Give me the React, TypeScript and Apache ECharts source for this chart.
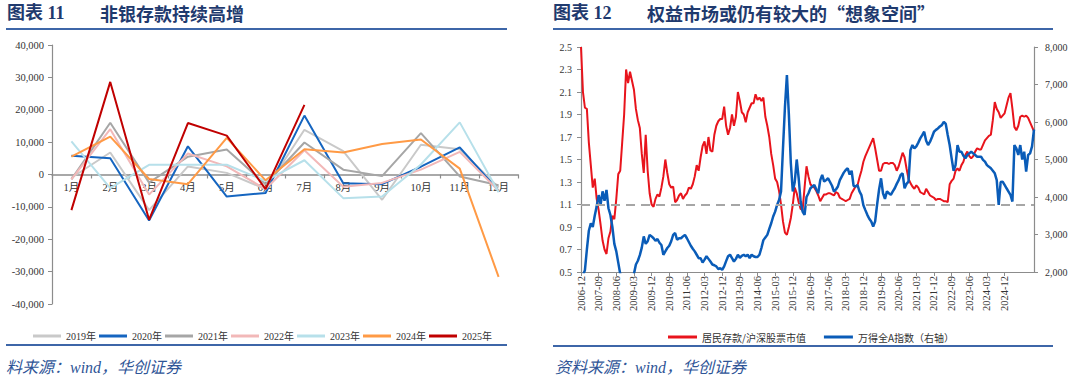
import React, { useEffect, useRef } from 'react';
import * as echarts from 'echarts';

// ---------- Left chart data (非银存款 monthly change, 亿元) ----------
const months = ['1月', '2月', '3月', '4月', '5月', '6月', '7月', '8月', '9月', '10月', '11月', '12月'];
const yearNames = ['2019年', '2020年', '2021年', '2022年', '2023年', '2024年', '2025年'];
const y2019 = [-1000, 6800, -11000, 2500, 500, -4500, 13800, 7200, -7800, 9200, 7800, -4000];
const y2020 = [5800, 5000, -14200, 8700, -6800, -5700, 18200, -2700, -3000, 2400, 8400, -5000];
const y2021 = [-1500, 16000, -2500, 5500, 7700, -3000, 9900, 1500, -500, 12800, -600, -3300];
const y2022 = [-1500, 14000, -6200, 6500, 2500, -4500, 7500, -3800, -2600, 1500, 7000, -5000];
const y2023 = [10200, -4200, 3000, 3000, 3000, -2000, 4400, -7300, -6800, 3100, 16100, -5500];
const y2024 = [5500, 11700, -1400, -3000, 11300, -1800, 7800, 6800, 9400, 10800, 1800, -31600];
const y2025 = [-11000, 28600, -14000, 15900, 12000, -4500, 21500];
const yearColors = ['#c9c9c9', '#1565c0', '#a6a6a6', '#f2b8b8', '#b7e0ea', '#ff9a45', '#c00000'];

// ---------- Right chart data ----------
const startYear = 2006;
const startMonth = 12;
const monthCount = 232;
const dateLabels = Array.from({ length: monthCount }, (_, i) => {
  const m = startMonth - 1 + i;
  const y = startYear + Math.floor(m / 12);
  const mm = (m % 12) + 1;
  return `${y}-${String(mm).padStart(2, '0')}`;
});
const ratioName = '居民存款/沪深股票市值';
const indexName = '万得全A指数（右轴）';
const ratio = [
  2.50, 2.10, 1.96, 1.95, 1.65, 1.45, 1.25, 1.33, 1.15, 1.05,
  0.92, 0.78, 0.70, 0.66, 0.80, 0.86, 1.00, 0.97, 1.15, 1.37,
  1.40, 1.65, 1.90, 2.30, 2.18, 2.28, 2.20, 2.12, 1.95, 1.85,
  1.78, 1.55, 1.38, 1.72, 1.40, 1.20, 1.10, 1.08, 1.15, 1.19,
  1.17, 1.25, 1.35, 1.50, 1.38, 1.28, 1.25, 1.26, 1.12, 1.14,
  1.18, 1.20, 1.15, 1.18, 1.20, 1.25, 1.24, 1.28, 1.35, 1.45,
  1.40, 1.52, 1.62, 1.66, 1.55, 1.70, 1.58, 1.57, 1.72, 1.80,
  1.84, 1.86, 1.86, 1.97, 1.80, 1.72, 1.78, 1.90, 1.80, 1.88,
  2.10, 2.02, 1.92, 1.90, 1.83, 1.92, 1.96, 2.00, 2.00, 2.08,
  2.03, 2.05, 2.02, 2.05, 1.88, 1.80, 1.70, 1.55, 1.45, 1.33,
  1.30, 1.22, 1.10, 0.95, 0.85, 0.83, 0.90, 0.98, 1.10, 1.25,
  1.20, 1.12, 1.06, 1.05, 1.25, 1.44, 1.35, 1.28, 1.26, 1.25,
  1.22, 1.18, 1.13, 1.16, 1.19, 1.19, 1.20, 1.20, 1.19, 1.18,
  1.21, 1.20, 1.16, 1.15, 1.14, 1.13, 1.14, 1.15, 1.20, 1.23,
  1.26, 1.27, 1.34, 1.40, 1.48, 1.53, 1.57, 1.61, 1.65, 1.69,
  1.60, 1.50, 1.40, 1.40, 1.46, 1.47, 1.47, 1.46, 1.47, 1.47,
  1.45, 1.40, 1.44, 1.50, 1.56, 1.52, 1.42, 1.33, 1.29, 1.26,
  1.24, 1.27, 1.25, 1.21, 1.20, 1.19, 1.24, 1.21, 1.18, 1.17,
  1.16, 1.14, 1.15, 1.15, 1.14, 1.13, 1.13, 1.12, 1.28, 1.31,
  1.33, 1.40, 1.42, 1.40, 1.45, 1.48, 1.54, 1.57, 1.53, 1.51,
  1.53, 1.57, 1.60, 1.59, 1.59, 1.63, 1.67, 1.69, 1.71, 1.72,
  1.85, 2.01, 1.95, 1.92, 1.87, 1.89, 1.91, 1.98, 2.05, 2.09,
  1.95, 1.79, 1.76, 1.80, 1.88, 1.89, 1.88, 1.89, 1.87, 1.83,
  1.79, 1.75,
];
const windA = [
  1750, 1900, 2050, 2600, 3100, 3300, 3200, 3500, 3750, 4050,
  3800, 4150, 3900, 4190, 3700, 3520, 3200, 2750, 2550, 2250,
  1950, 1800, 1650, 1600, 1550, 1650, 1800, 1950, 2200, 2300,
  2450, 2650, 2950, 2750, 2820, 2990, 2950, 2900, 2830, 2880,
  2780, 2720, 2460, 2550, 2640, 2700, 2820, 2990, 3040, 2860,
  2900, 2900, 2950, 2990, 2900, 2800, 2700, 2620, 2550, 2460,
  2370, 2370, 2250, 2330, 2420, 2350, 2280, 2200, 2180, 2150,
  2080, 2100, 2060, 2150, 2290, 2420, 2460, 2370, 2280, 2350,
  2460, 2380, 2430, 2460, 2420, 2460, 2370, 2460, 2420, 2400,
  2400, 2460, 2640, 2850, 2920, 2990, 3150, 3300, 3480, 3610,
  3790, 3920, 4150, 5300, 6400, 7250, 6200, 4900, 4150, 4400,
  5000, 4500, 3880, 3613, 3524, 4000, 4100, 4233, 4280, 4320,
  4200, 4100, 4450, 4590, 4410, 4450, 4500, 4400, 4300, 4145,
  4200, 4280, 4450, 4550, 4650, 4720, 4765, 4600, 4700, 4300,
  4280, 4320, 4150, 4050, 3780, 3650, 3524, 3420, 3347, 3214,
  3350, 3800, 4200, 4499, 4100, 3950, 4150, 4100, 4056, 4150,
  4233, 4350, 4450, 4588, 4632, 4233, 4350, 4410, 5250, 5385,
  5297, 5350, 5450, 5563, 5650, 5740, 5500, 5385, 5474, 5600,
  5740, 5790, 5828, 5880, 5917, 6006, 5950, 5651, 5385, 5031,
  4700, 4850, 5385, 5208, 5208, 5100, 5031, 5120, 5164, 5208,
  5164, 5120, 5075, 5075, 5075, 4990, 4942, 4850, 4809, 4765,
  4700, 4632, 4450, 3790, 4400, 4410, 4322, 4233, 4145, 4056,
  3879, 5385, 5297, 5120, 5385, 5000, 5208, 4676, 5120, 5164,
  5350, 5800,
];
const refLevel = 1.1;
const labelStep = 9;
const lastLabelIndex = 216;

const titleLeftA = '图表 11';
const titleLeftB = '非银存款持续高增';
const titleRightA = '图表 12';
const titleRightB = '权益市场或仍有较大的“想象空间”';
const sourceLeft = '料来源：wind，华创证券';
const sourceRight = '资料来源：wind，华创证券';

const SERIF = '"Liberation Serif", "Times New Roman", "Noto Sans CJK SC", serif';
const SANS = '"Noto Sans CJK SC", "Noto Sans", sans-serif';
const AXIS = '#8c8c8c';
const NAVY = '#1f3a6e';
const RULE = '#3d66a8';
const SRC = '#2f5597';

// left grid geometry: top 45, bottom edge 304; zero sits at the middle of [-40000, 40000]
const LEFT_TOP = 45;
const LEFT_BOTTOM = 80;
const LEFT_HEIGHT = 384 - LEFT_TOP - LEFT_BOTTOM;

export default function App() {
  const ref = useRef<HTMLDivElement>(null);
  useEffect(() => {
    if (!ref.current) return;
    const chart = echarts.init(ref.current, undefined, { renderer: 'svg' });
    const leftData = [y2019, y2020, y2021, y2022, y2023, y2024, y2025];
    const showLabel = (i: number) => i % labelStep === 0 && i <= lastLabelIndex;
    const option: any = {
      animation: false,
      backgroundColor: '#ffffff',
      grid: [
        { left: 52, right: 562, top: LEFT_TOP, bottom: LEFT_BOTTOM },
        { left: 581, right: 46, top: 47, bottom: 112 },
      ],
      xAxis: [
        {
          type: 'category', gridIndex: 0, data: months, boundaryGap: true,
          position: 'bottom', offset: -LEFT_HEIGHT / 2,
          axisLine: { onZero: false, lineStyle: { color: AXIS, width: 1.5 } },
          axisTick: { show: true, length: 4, lineStyle: { color: AXIS, width: 1.2 } },
          axisLabel: { fontSize: 10.5, fontFamily: SERIF, color: '#333', margin: 8 },
          splitLine: { show: false },
        },
        {
          type: 'category', gridIndex: 1, data: dateLabels, boundaryGap: false,
          axisLine: { onZero: false, lineStyle: { color: AXIS, width: 1.2 } },
          axisTick: { show: true, length: 4, interval: showLabel, lineStyle: { color: AXIS } },
          axisLabel: { rotate: 90, interval: showLabel, fontSize: 10.5, fontFamily: SERIF, color: '#333', margin: 4 },
          splitLine: { show: false },
        },
      ],
      yAxis: [
        {
          type: 'value', gridIndex: 0, min: -40000, max: 40000, interval: 10000,
          axisLine: { show: true, lineStyle: { color: AXIS, width: 1.2 } },
          axisTick: { show: true, length: 4, lineStyle: { color: AXIS } },
          axisLabel: {
            fontSize: 10.5, fontFamily: SERIF, color: '#333', margin: 8,
            formatter: (v: number) => v.toLocaleString('en-US'),
          },
          splitLine: { show: false },
        },
        {
          type: 'value', gridIndex: 1, position: 'left', min: 0.5, max: 2.5, interval: 0.2,
          axisLine: { show: true, lineStyle: { color: AXIS, width: 1.2 } },
          axisTick: { show: true, length: 4, lineStyle: { color: AXIS } },
          axisLabel: {
            fontSize: 10, fontFamily: SERIF, color: '#333', margin: 9,
            formatter: (v: number) => v.toFixed(1),
          },
          splitLine: { show: false },
        },
        {
          type: 'value', gridIndex: 1, position: 'right', min: 2000, max: 8000, interval: 1000,
          axisLine: { show: true, lineStyle: { color: AXIS, width: 1.2 } },
          axisTick: { show: true, length: 4, lineStyle: { color: AXIS } },
          axisLabel: {
            fontSize: 10, fontFamily: SERIF, color: '#333', margin: 11,
            formatter: (v: number) => v.toLocaleString('en-US'),
          },
          splitLine: { show: false },
        },
      ],
      legend: [
        {
          data: yearNames, left: 28, top: 326, icon: 'rect', itemWidth: 28, itemHeight: 3, itemGap: 3,
          textStyle: { fontSize: 10, fontFamily: SERIF, color: '#333' },
        },
        {
          data: [ratioName, indexName], left: 663, top: 327, icon: 'rect', itemWidth: 29, itemHeight: 3, itemGap: 18,
          textStyle: { fontSize: 10, fontFamily: SANS, color: '#333' },
        },
      ],
      series: [
        ...leftData.map((d, i) => ({
          name: yearNames[i], type: 'line', xAxisIndex: 0, yAxisIndex: 0, data: d,
          symbol: 'none', lineStyle: { width: 2, color: yearColors[i] }, itemStyle: { color: yearColors[i] },
        })),
        {
          name: ratioName, type: 'line', xAxisIndex: 1, yAxisIndex: 1, data: ratio,
          symbol: 'none', lineStyle: { width: 2, color: '#e8141c' }, itemStyle: { color: '#e8141c' },
          markLine: {
            silent: true, symbol: ['none', 'none'], label: { show: false },
            lineStyle: { type: [9, 6], color: '#a6a6a6', width: 2 },
            data: [{ yAxis: refLevel }],
          },
        },
        {
          name: indexName, type: 'line', xAxisIndex: 1, yAxisIndex: 2, data: windA,
          symbol: 'none', lineStyle: { width: 2.5, color: '#0a5cb8' }, itemStyle: { color: '#0a5cb8' },
        },
      ],
      graphic: [
        { type: 'text', left: 7, top: 4, style: { text: titleLeftA, font: `bold 18px ${SERIF}`, fill: NAVY } },
        { type: 'text', left: 100, top: 4, style: { text: titleLeftB, font: `bold 18px ${SANS}`, fill: NAVY } },
        { type: 'rect', shape: { x: 6, y: 28, width: 501, height: 2 }, style: { fill: RULE } },
        { type: 'rect', shape: { x: 6, y: 344, width: 501, height: 2 }, style: { fill: RULE } },
        { type: 'text', left: 6, top: 359, style: { text: sourceLeft, font: `italic 16px ${SERIF}`, fill: SRC } },
        { type: 'text', left: 553, top: 4, style: { text: titleRightA, font: `bold 18px ${SERIF}`, fill: NAVY } },
        { type: 'text', left: 647, top: 4, style: { text: titleRightB, font: `bold 18px ${SANS}`, fill: NAVY } },
        { type: 'rect', shape: { x: 553, y: 28, width: 500, height: 2 }, style: { fill: RULE } },
        { type: 'rect', shape: { x: 553, y: 345, width: 500, height: 2 }, style: { fill: RULE } },
        { type: 'text', left: 555, top: 359, style: { text: sourceRight, font: `italic 16px ${SERIF}`, fill: SRC } },
      ],
    };
    chart.setOption(option);
    return () => chart.dispose();
  }, []);
  return (
    <div
      ref={ref}
      style={{ position: 'absolute', left: 0, top: 0, width: 1080, height: 384, background: '#fff' }}
    />
  );
}
